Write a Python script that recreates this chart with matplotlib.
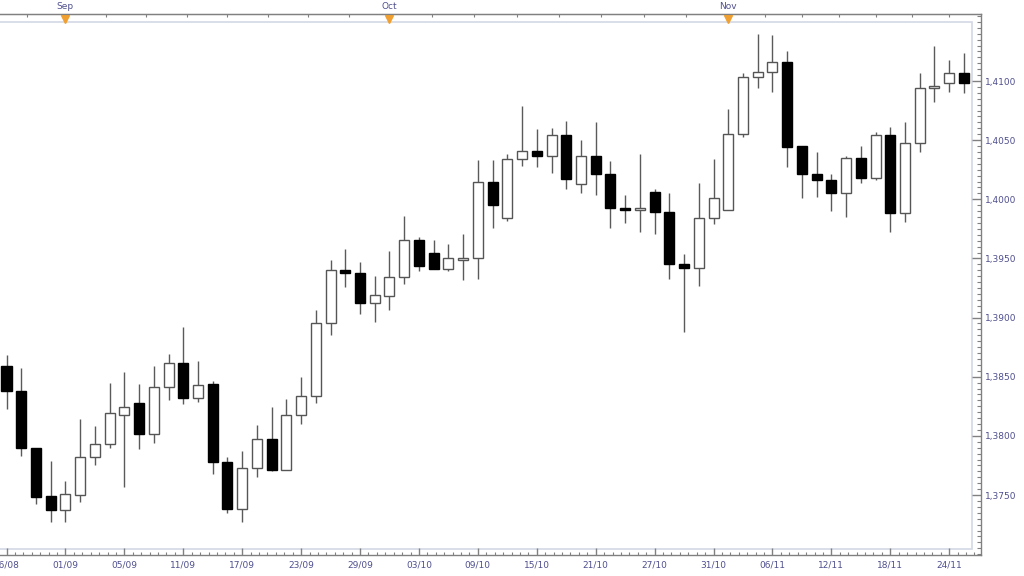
import numpy as np
import pandas as pd
import matplotlib
matplotlib.use("Agg")
import matplotlib.pyplot as plt
from matplotlib.patches import Rectangle
from matplotlib.ticker import FixedLocator, FuncFormatter, MultipleLocator
import matplotlib.transforms as mtransforms

# daily candles, 26/08/2014 - 25/11/2014
dates = pd.bdate_range("2014-08-26", "2014-11-25")

opens = [1.3859, 1.3838, 1.3790, 1.3749, 1.3737, 1.3750, 1.3782, 1.3793, 1.3818, 1.3828,
         1.3802, 1.3841, 1.3862, 1.3832, 1.3844, 1.3778, 1.3738, 1.3773, 1.3797, 1.3771,
         1.3818, 1.3834, 1.3895, 1.3940, 1.3938, 1.3912, 1.3918, 1.3934, 1.3966, 1.3955,
         1.3941, 1.3949, 1.3950, 1.4015, 1.3984, 1.4034, 1.4041, 1.4037, 1.4054, 1.4013,
         1.4037, 1.4021, 1.3993, 1.3991, 1.4006, 1.3989, 1.3945, 1.3942, 1.3984, 1.3991,
         1.4055, 1.4103, 1.4108, 1.4116, 1.4045, 1.4021, 1.4016, 1.4005, 1.4035, 1.4018,
         1.4054, 1.3988, 1.4048, 1.4094, 1.4098, 1.4107]
highs = [1.3868, 1.3857, 1.3790, 1.3779, 1.3762, 1.3814, 1.3808, 1.3845, 1.3854, 1.3844,
         1.3859, 1.3869, 1.3892, 1.3863, 1.3846, 1.3782, 1.3787, 1.3809, 1.3824, 1.3831,
         1.3850, 1.3906, 1.3949, 1.3958, 1.3947, 1.3935, 1.3956, 1.3986, 1.3968, 1.3966,
         1.3962, 1.3971, 1.4033, 1.4033, 1.4038, 1.4079, 1.4059, 1.4060, 1.4066, 1.4050,
         1.4065, 1.4032, 1.4004, 1.4038, 1.4009, 1.4005, 1.3954, 1.4014, 1.4034, 1.4076,
         1.4107, 1.4140, 1.4139, 1.4125, 1.4045, 1.4040, 1.4021, 1.4037, 1.4045, 1.4057,
         1.4061, 1.4065, 1.4107, 1.4130, 1.4118, 1.4124]
lows = [1.3823, 1.3783, 1.3742, 1.3727, 1.3727, 1.3744, 1.3775, 1.3790, 1.3757, 1.3789,
        1.3794, 1.3830, 1.3827, 1.3829, 1.3768, 1.3735, 1.3727, 1.3765, 1.3770, 1.3771,
        1.3810, 1.3828, 1.3885, 1.3926, 1.3903, 1.3896, 1.3906, 1.3928, 1.3939, 1.3941,
        1.3939, 1.3932, 1.3933, 1.3976, 1.3982, 1.4028, 1.4027, 1.4022, 1.4009, 1.4005,
        1.4004, 1.3976, 1.3980, 1.3972, 1.3971, 1.3933, 1.3888, 1.3927, 1.3979, 1.3991,
        1.4053, 1.4094, 1.4091, 1.4027, 1.4001, 1.4002, 1.3990, 1.3985, 1.4014, 1.4016,
        1.3972, 1.3981, 1.4040, 1.4082, 1.4091, 1.4090]
closes = [1.3838, 1.3790, 1.3748, 1.3737, 1.3751, 1.3782, 1.3793, 1.3819, 1.3824, 1.3802,
          1.3841, 1.3862, 1.3832, 1.3843, 1.3778, 1.3738, 1.3773, 1.3797, 1.3771, 1.3818,
          1.3834, 1.3895, 1.3940, 1.3938, 1.3912, 1.3919, 1.3934, 1.3966, 1.3944, 1.3941,
          1.3950, 1.3950, 1.4015, 1.3995, 1.4034, 1.4041, 1.4037, 1.4054, 1.4017, 1.4037,
          1.4021, 1.3993, 1.3991, 1.3993, 1.3989, 1.3945, 1.3942, 1.3984, 1.4001, 1.4055,
          1.4103, 1.4108, 1.4116, 1.4044, 1.4021, 1.4016, 1.4005, 1.4035, 1.4018, 1.4054,
          1.3988, 1.4048, 1.4094, 1.4096, 1.4107, 1.4098]

months = ["Aug", "Sep", "Oct", "Nov", "Dec"]
month_start_idx = [-17, 4, 26, 49, 69]   # index of first trading day of each month

price_ticks = [1.3750, 1.3800, 1.3850, 1.3900, 1.3950, 1.4000, 1.4050, 1.4100]

label_color = "#4f4f8f"
spine_color = "#808080"

fig = plt.figure(figsize=(10.24, 5.76), dpi=100)
ax = fig.add_axes([0, 21 / 576, 981 / 1024, 541 / 576])

idx = np.arange(len(dates))
o = np.array(opens)
h = np.array(highs)
l = np.array(lows)
c = np.array(closes)
up = c >= o

ax.vlines(idx, l, h, color="#5a5a5a", lw=1, zorder=2)
bottoms = np.minimum(o, c)
heights = np.maximum(np.abs(c - o), 0.00003)
ax.bar(idx[up], heights[up], bottom=bottoms[up], width=0.68,
       color="white", edgecolor="#555555", lw=1, zorder=3)
ax.bar(idx[~up], heights[~up], bottom=bottoms[~up], width=0.68,
       color="black", edgecolor="black", lw=1, zorder=3)

ax.set_xlim(-6.5 / 14.73, (981 - 6.5) / 14.73)
ax.set_ylim(1.41 - 474 / 11829, 1.41 + 67 / 11829)

# inner light frame
ax.add_patch(Rectangle((-0.02, 6 / 541), 0.02 + 972 / 981, 527 / 541,
                       transform=ax.transAxes, fill=False, edgecolor="#d3d8e4",
                       lw=1.2, clip_on=False, zorder=1))

for side in ["top", "bottom", "right"]:
    ax.spines[side].set_color(spine_color)
    ax.spines[side].set_linewidth(1)
ax.spines["left"].set_visible(False)

# right price axis
ax.yaxis.tick_right()
ax.yaxis.set_major_locator(FixedLocator(price_ticks))
ax.yaxis.set_minor_locator(MultipleLocator(0.0005))
ax.yaxis.set_major_formatter(FuncFormatter(lambda v, p: f"{v:.4f}".replace(".", ",")))
ax.tick_params(axis="y", which="major", direction="in", length=6.5, width=1,
               color=spine_color, labelsize=6.5, labelcolor=label_color, pad=3)
ax.tick_params(axis="y", which="minor", direction="in", length=3, width=0.8,
               color=spine_color)

# bottom date axis
major_idx = idx[::4]
ax.xaxis.set_major_locator(FixedLocator(major_idx))
ax.set_xticklabels([d.strftime("%d/%m") for d in dates[::4]])
ax.xaxis.set_minor_locator(FixedLocator(np.arange(-4, 72, 4 / 7)))
ax.tick_params(axis="x", which="major", direction="in", length=5, width=1,
               color=spine_color, labelsize=6.5, labelcolor=label_color, pad=4)
ax.tick_params(axis="x", which="minor", direction="in", length=2.2, width=0.8,
               color=spine_color)

# top month axis
ax2 = ax.twiny()
ax2.set_xlim(ax.get_xlim())
for side in ["bottom", "left", "right"]:
    ax2.spines[side].set_visible(False)
ax2.spines["top"].set_color(spine_color)
ax2.xaxis.set_major_locator(FixedLocator(month_start_idx))
ax2.set_xticklabels(months)
top_minor = []
for k in range(len(month_start_idx) - 1):
    a, b = month_start_idx[k], month_start_idx[k + 1]
    top_minor += list(a + (b - a) * np.arange(1, 8) / 8)
ax2.xaxis.set_minor_locator(FixedLocator(top_minor))
ax2.tick_params(axis="x", which="major", length=0, labelsize=6.5,
                labelcolor=label_color, pad=2)
ax2.tick_params(axis="x", which="minor", direction="in", length=2.2, width=0.8,
                color=spine_color)

trans = mtransforms.blended_transform_factory(ax.transData, ax.transAxes)
ax.plot(month_start_idx[1:4], [(555 - 18.5) / 541] * 3, linestyle="none",
        marker="v", ms=5.5, color="#f0a030", mec="#f0a030",
        transform=trans, clip_on=False, zorder=5)

fig.savefig("out.png", dpi=100)
